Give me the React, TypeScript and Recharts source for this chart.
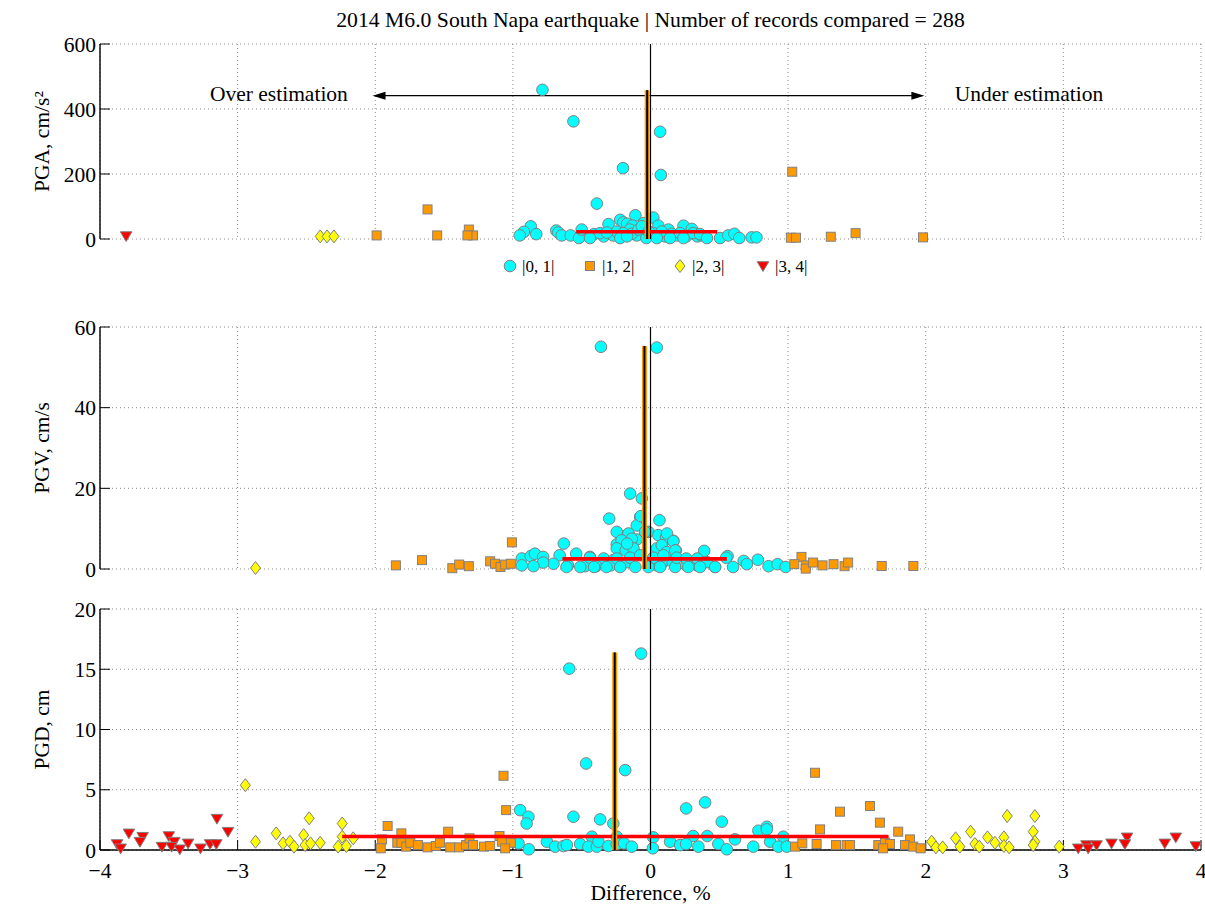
import React from 'react'
import {
  ScatterChart, Scatter, XAxis, YAxis, CartesianGrid, ReferenceLine, ReferenceDot,
} from 'recharts'

const FONT = '"Liberation Serif", "Times New Roman", serif'
const CYAN   = '#00ffff'
const ORANGE = '#ff9900'
const YELLOW = '#ffff00'
const RED    = '#ff0000'
const EDGE   = '#808080'

const TITLE = '2014 M6.0 South Napa earthquake | Number of records compared = 288'
const X_TICKS = [-4, -3, -2, -1, 0, 1, 2, 3, 4]
const PGA_TICKS = [0, 200, 400, 600]
const PGV_TICKS = [0, 20, 40, 60]
const PGD_TICKS = [0, 5, 10, 15, 20]
const BIN_LABELS = ['|0, 1|', '|1, 2|', '|2, 3|', '|3, 4|']

// [difference %, value] for each |difference| bin
const PGA_CYAN = [
  [-0.785, 459], [-0.56, 362], [0.07, 330], [-0.2, 218], [0.075, 197], [-0.39, 109], [-0.11, 73],
  [-0.22, 59], [0.02, 66], [-0.305, 46], [-0.197, 51], [-0.17, 47], [-0.13, 41], [-0.05, 49],
  [0.057, 41], [0.24, 41], [0.3, 31], [0.13, 29], [-0.87, 39], [-0.92, 22], [-0.95, 11], [-0.83, 15],
  [-0.685, 26], [-0.67, 20], [-0.645, 11], [-0.58, 11], [-0.52, 3], [-0.5, 29], [-0.41, 15],
  [-0.34, 8], [-0.27, 11], [-0.245, 23], [-0.15, 29], [-0.1, 11], [-0.03, 3], [0.02, 18], [0.106, 8],
  [0.19, 11], [0.26, 8], [0.34, 8], [0.37, 11], [0.505, 3], [0.565, 11], [0.61, 16], [0.645, 3],
  [0.735, 5], [0.77, 5], [-0.366, 18], [-0.317, 20], [-0.197, 18], [-0.136, 16], [-0.088, 29],
  [-0.063, 39], [-0.015, 23], [0.082, 23], [0.155, 16], [0.215, 18], [0.31, 18], [0.36, 15],
  [-0.44, 3], [-0.22, 3], [-0.17, 8], [0.046, 3], [0.142, 3], [0.24, 3], [0.41, 3],
]
const PGA_ORANGE = [
  [-1.62, 91], [-1.99, 11], [-1.55, 11], [-1.32, 29], [-1.29, 11], [-1.33, 11],
  [1.02, 4], [1.057, 4], [1.31, 7], [1.49, 18], [1.98, 5], [1.03, 207],
]
const PGA_YELLOW = [[-2.4, 8], [-2.35, 8], [-2.3, 8]]
const PGA_RED = [[-3.81, 9]]

const PGV_CYAN = [
  [-0.36, 55.1], [0.046, 54.9], [-0.148, 18.7], [-0.063, 17.5], [-0.3, 12.5], [-0.075, 12.9],
  [0.065, 12.1], [-0.1, 10.8], [-0.245, 9.2], [-0.16, 8.6], [-0.19, 7.1], [-0.1, 7.3], [-0.015, 9.2],
  [0.057, 8.4], [0.113, 7.8], [0.166, 7.0], [-0.245, 6.1], [-0.128, 5.3], [-0.63, 6.3], [-0.66, 3.4],
  [-0.705, 1.3], [-0.935, 2.6], [-0.935, 0.9], [-0.87, 3.2], [-0.84, 3.8], [-0.78, 3.0], [-0.78, 1.6],
  [-0.85, 0.7], [-0.54, 3.8], [-0.44, 3.0], [-0.34, 2.6], [-0.27, 2.2], [-0.6, 0.9], [-0.475, 0.7],
  [-0.395, 0.7], [-0.29, 0.9], [-0.17, 1.7], [-0.124, 4.2], [0.094, 4.6], [0.13, 2.2], [0.18, 0.5],
  [0.046, 0.9], [0.12, 8.8], [0.166, 6.9], [0.184, 4.6], [0.39, 4.5], [0.56, 3.2], [0.677, 2.0],
  [0.78, 2.3], [0.7, 1.2], [0.858, 0.7], [0.923, 1.2], [0.982, 0.5], [0.469, 0.5], [0.6, 0.5],
  [0.26, 0.9], [0.34, 0.9], [0.08, 1.3], [-0.07, 13.1], [-0.16, 8.8], [-0.04, 9.2], [-0.21, 7.1],
  [-0.136, 7.5], [-0.245, 5.1], [-0.18, 4.6], [-0.124, 5.1], [-0.17, 6.3], [0.046, 5.1], [0.082, 5.9],
  [0.118, 4.2], [0.18, 4.6], [-0.44, 2.8], [-0.245, 2.6], [-0.148, 2.8], [-0.075, 3.4], [0.02, 2.8],
  [0.094, 3.4], [0.19, 2.8], [0.26, 2.6], [0.34, 2.6], [0.41, 1.7], [0.55, 2.8], [-0.61, 0.5],
  [-0.51, 0.5], [-0.41, 0.5], [-0.32, 0.5], [-0.22, 0.5], [-0.11, 0.5], [-0.015, 0.5], [0.07, 0.5],
  [0.275, 0.5], [0.36, 0.5], [0.47, 0.5],
]
const PGV_ORANGE = [
  [-1.007, 6.6], [-1.85, 0.9], [-1.66, 2.2], [-1.44, 0.2], [-1.39, 1.1], [-1.32, 0.7], [-1.165, 1.9],
  [-1.13, 1.3], [-1.09, 0.5], [-1.056, 1.1], [-1.015, 1.3], [1.097, 3.0], [1.045, 1.2], [1.128, 0.9],
  [1.128, 0.1], [1.18, 1.6], [1.25, 0.9], [1.33, 1.2], [1.41, 0.7], [1.436, 1.6], [1.68, 0.75],
  [1.91, 0.75],
]
const PGV_YELLOW = [[-2.87, 0.25]]
const PGV_RED: number[][] = []

const PGD_CYAN = [
  [-0.068, 16.3], [-0.59, 15.05], [-0.468, 7.18], [-0.184, 6.63], [-0.947, 3.31], [-0.887, 2.76],
  [-0.9, 2.2], [-0.56, 2.76], [-0.366, 2.54], [-0.27, 2.2], [0.259, 3.45], [0.397, 3.95], [0.518, 2.35],
  [0.784, 1.6], [0.845, 1.93], [0.845, 1.71], [0.965, 1.1], [0.614, 0.88], [0.31, 1.16], [0.413, 1.16],
  [0.02, 1.05], [-0.245, 1.1], [-0.426, 1.1], [-0.959, 0.55], [-0.884, 0.06], [-0.753, 0.69],
  [-0.693, 0.28], [-0.632, 0.33], [-0.608, 0.41], [-0.511, 0.5], [-0.451, 0.28], [-0.39, 0.28],
  [-0.378, 0.69], [-0.306, 0.33], [-0.245, 0.5], [-0.192, 0.55], [-0.136, 0.28], [0.017, 0.14],
  [0.142, 0.69], [0.215, 0.41], [0.259, 0.5], [0.348, 0.28], [0.493, 0.5], [0.554, 0.06], [0.747, 0.28],
  [0.869, 0.69], [0.929, 0.28], [0.99, 0.28],
]
const PGD_ORANGE = [
  [-1.95, 0.88], [-1.96, 0.14], [-1.91, 1.99], [-1.84, 0.6], [-1.81, 1.38], [-1.81, 0.6], [-1.775, 0.28],
  [-1.745, 0.6], [-1.69, 0.41], [-1.62, 0.22], [-1.56, 0.33], [-1.53, 0.6], [-1.47, 1.52], [-1.455, 0.22],
  [-1.39, 0.22], [-1.34, 0.41], [-1.315, 0.97], [-1.29, 0.41], [-1.21, 0.28], [-1.165, 0.33],
  [-1.097, 1.16], [-1.068, 6.16], [-1.049, 3.31], [-1.08, 0.69], [-1.015, 0.6], [-1.056, 0.14],
  [1.195, 6.41], [1.377, 3.18], [1.232, 1.71], [1.05, 0.28], [1.103, 0.55], [1.207, 0.5], [1.348, 0.41],
  [1.425, 0.41], [1.595, 3.65], [1.667, 2.27], [1.8, 1.52], [1.885, 0.88], [1.45, 0.41], [1.655, 0.41],
  [1.704, 0.6], [1.74, 0.5], [1.69, 0.14], [1.849, 0.41], [1.909, 0.28], [1.963, 0.14],
]
const PGD_YELLOW = [
  [-2.944, 5.38], [-2.87, 0.69], [-2.72, 1.38], [-2.67, 0.55], [-2.62, 0.69], [-2.59, 0.28], [-2.52, 1.24],
  [-2.51, 0.41], [-2.48, 2.63], [-2.47, 0.55], [-2.4, 0.6], [-2.27, 0.28], [-2.24, 2.2], [-2.24, 1.1],
  [-2.21, 0.33], [-2.16, 0.97], [2.043, 0.69], [2.074, 0.22], [2.123, 0.22], [2.217, 0.97], [2.248, 0.28],
  [2.326, 1.52], [2.357, 0.5], [2.389, 0.28], [2.449, 1.05], [2.503, 0.6], [2.568, 1.05], [2.568, 0.33],
  [2.606, 0.22], [2.592, 2.82], [2.793, 2.82], [2.781, 1.52], [2.793, 0.69], [2.781, 0.41], [2.97, 0.28],
]
const PGD_RED = [
  [-3.876, 0.5], [-3.85, 0.14], [-3.79, 1.38], [-3.69, 1.1], [-3.71, 0.69], [-3.55, 0.28], [-3.5, 1.16],
  [-3.46, 0.69], [-3.48, 0.28], [-3.42, 0.06], [-3.36, 0.55], [-3.27, 0.14], [-3.2, 0.5], [-3.155, 0.5],
  [-3.15, 2.6], [-3.07, 1.52], [3.108, 0.14], [3.168, 0.41], [3.18, 0.14], [3.241, 0.41], [3.35, 0.55],
  [3.463, 1.05], [3.447, 0.5], [3.737, 0.55], [3.817, 1.05], [3.962, 0.33],
]

// mean band [from, to, level] and median line [x, top]
const PGA_MEAN = [-0.54, 0.485, 22.5]
const PGA_MEDIAN = [-0.024, 458]
const PGV_MEAN = [-0.64, 0.555, 2.5]
const PGV_MEDIAN = [-0.044, 55.3]
const PGD_MEAN = [-2.24, 1.73, 1.12]
const PGD_MEDIAN = [-0.26, 16.4]

const toPts = (a: number[][]) => a.map(([x, y]) => ({ x, y }))
const fmtX = (v: number) => (v < 0 ? `\u2212${-v}` : `${v}`)
const blank = () => ''

const Circle = (p: any) => <circle cx={p.cx} cy={p.cy} r={5.8} fill={CYAN} stroke={EDGE} strokeWidth={1} />
const Square = (p: any) => (
  <rect x={p.cx - 4.5} y={p.cy - 4.5} width={9} height={9} fill={ORANGE} stroke={EDGE} strokeWidth={1} />
)
const Diamond = (p: any) => (
  <polygon
    points={`${p.cx},${p.cy - 6.5} ${p.cx + 5},${p.cy} ${p.cx},${p.cy + 6.5} ${p.cx - 5},${p.cy}`}
    fill={YELLOW} stroke={EDGE} strokeWidth={1}
  />
)
const TriDown = (p: any) => (
  <polygon
    points={`${p.cx - 5.8},${p.cy - 4.3} ${p.cx + 5.8},${p.cy - 4.3} ${p.cx},${p.cy + 5.5}`}
    fill={RED} stroke={EDGE} strokeWidth={1}
  />
)
const NoMark = () => <g />

const DoubleArrow = (p: any) => {
  const { x1, y1, x2, y2 } = p
  const L = 13, W = 4
  return (
    <g>
      <line x1={x1 + 4} y1={y1} x2={x2 - 4} y2={y2} stroke="#000" strokeWidth={1.3} />
      <polygon points={`${x1},${y1} ${x1 + L},${y1 - W} ${x1 + L},${y1 + W}`} fill="#000" />
      <polygon points={`${x2},${y2} ${x2 - L},${y2 - W} ${x2 - L},${y2 + W}`} fill="#000" />
    </g>
  )
}

const annotation = (text: string) => (p: any) => (
  <text x={p.cx} y={p.cy + 7} textAnchor="middle" fontFamily={FONT} fontSize={21.5} fill="#000">{text}</text>
)

const tickStyle = { fontFamily: FONT, fontSize: 21.5, fill: '#000' }
const axisLine = { stroke: '#000', strokeWidth: 1.4 }

function Panel({
  top, height, marginTop, marginBottom, xAxisHeight, yMax, yTicks, yTitle, showXLabels,
  cyan, orange, yellow, red, mean, median, children,
}: any) {
  const zero = [{ x: 0, y: 0 }, { x: 0, y: yMax }]
  const meanLine = [{ x: mean[0], y: mean[2] }, { x: mean[1], y: mean[2] }]
  const medianLine = [{ x: median[0], y: 0 }, { x: median[0], y: median[1] }]
  return (
    <div style={{ position: 'absolute', left: 0, top, width: 1205, height }}>
      <ScatterChart width={1205} height={height} margin={{ top: marginTop, right: 4, bottom: marginBottom, left: 0 }}>
        <CartesianGrid strokeDasharray="1 3" stroke="#8c8c8c" />
        <XAxis
          dataKey="x" type="number" domain={[-4, 4]} ticks={X_TICKS} interval={0}
          height={xAxisHeight} axisLine={axisLine} tickLine={{ stroke: '#000' }}
          tickSize={-10} tickMargin={23} tick={tickStyle}
          tickFormatter={showXLabels ? fmtX : blank}
          label={showXLabels ? { value: 'Difference, %', position: 'insideBottom', offset: 6, style: tickStyle } : undefined}
        />
        <XAxis
          xAxisId="top" orientation="top" type="number" domain={[-4, 4]} ticks={X_TICKS} interval={0}
          height={0} axisLine={axisLine} tickLine={{ stroke: '#000' }} tickSize={-10} tickFormatter={blank}
        />
        <YAxis
          dataKey="y" type="number" domain={[0, yMax]} ticks={yTicks} interval={0} width={100}
          axisLine={axisLine} tickLine={{ stroke: '#000' }} tickSize={-10} tickMargin={14} tick={tickStyle}
          label={{ value: yTitle, angle: -90, position: 'center', dx: -9, style: tickStyle }}
        />
        <YAxis
          yAxisId="right" orientation="right" type="number" domain={[0, yMax]} ticks={yTicks} interval={0}
          width={0} axisLine={axisLine} tickLine={{ stroke: '#000' }} tickSize={-10} tickFormatter={blank}
        />
        <Scatter data={toPts(cyan)} shape={Circle} isAnimationActive={false} />
        <Scatter data={toPts(orange)} shape={Square} isAnimationActive={false} />
        <Scatter data={toPts(yellow)} shape={Diamond} isAnimationActive={false} />
        <Scatter data={toPts(red)} shape={TriDown} isAnimationActive={false} />
        <Scatter data={zero} shape={NoMark} line={{ stroke: '#000', strokeWidth: 1.2 }} isAnimationActive={false} />
        <Scatter data={meanLine} shape={NoMark} line={{ stroke: RED, strokeWidth: 3.6 }} isAnimationActive={false} />
        <Scatter data={medianLine} shape={NoMark} line={{ stroke: ORANGE, strokeWidth: 5 }} isAnimationActive={false} />
        <Scatter data={medianLine} shape={NoMark} line={{ stroke: '#000', strokeWidth: 2 }} isAnimationActive={false} />
        {children}
      </ScatterChart>
    </div>
  )
}

function BinLegend() {
  const y = 266
  const xs = [510, 590, 680, 763]
  return (
    <svg width={1205} height={30} style={{ position: 'absolute', left: 0, top: y - 15 }}>
      <Circle cx={xs[0]} cy={15} />
      <Square cx={xs[1]} cy={15} />
      <Diamond cx={xs[2]} cy={15} />
      <TriDown cx={xs[3]} cy={15} />
      {BIN_LABELS.map((t, i) => (
        <text key={t} x={xs[i] + 12} y={21} fontFamily={FONT} fontSize={17} fill="#000">{t}</text>
      ))}
    </svg>
  )
}

export default function App() {
  return (
    <div style={{ position: 'absolute', left: 0, top: 0, width: 1205, height: 906, background: '#fff' }}>
      <div style={{
        position: 'absolute', left: 100, top: 8, width: 1101, textAlign: 'center',
        fontFamily: FONT, fontSize: 21.7, lineHeight: '24px', color: '#000', whiteSpace: 'nowrap',
      }}>
        {TITLE}
      </div>
      <Panel
        top={0} height={300} marginTop={44} marginBottom={61} xAxisHeight={0}
        yMax={600} yTicks={PGA_TICKS} yTitle="PGA, cm/s²" showXLabels={false}
        cyan={PGA_CYAN} orange={PGA_ORANGE} yellow={PGA_YELLOW} red={PGA_RED}
        mean={PGA_MEAN} median={PGA_MEDIAN}
      >
        <ReferenceLine segment={[{ x: -2.02, y: 441 }, { x: 1.99, y: 441 }]} shape={DoubleArrow} />
        <ReferenceDot x={-2.7} y={445} r={0} shape={annotation('Over estimation')} />
        <ReferenceDot x={2.75} y={445} r={0} shape={annotation('Under estimation')} />
      </Panel>
      <BinLegend />
      <Panel
        top={300} height={290} marginTop={27} marginBottom={21} xAxisHeight={0}
        yMax={60} yTicks={PGV_TICKS} yTitle="PGV, cm/s" showXLabels={false}
        cyan={PGV_CYAN} orange={PGV_ORANGE} yellow={PGV_YELLOW} red={PGV_RED}
        mean={PGV_MEAN} median={PGV_MEDIAN}
      />
      <Panel
        top={590} height={316} marginTop={19} marginBottom={0} xAxisHeight={56}
        yMax={20} yTicks={PGD_TICKS} yTitle="PGD, cm" showXLabels={true}
        cyan={PGD_CYAN} orange={PGD_ORANGE} yellow={PGD_YELLOW} red={PGD_RED}
        mean={PGD_MEAN} median={PGD_MEDIAN}
      />
    </div>
  )
}
